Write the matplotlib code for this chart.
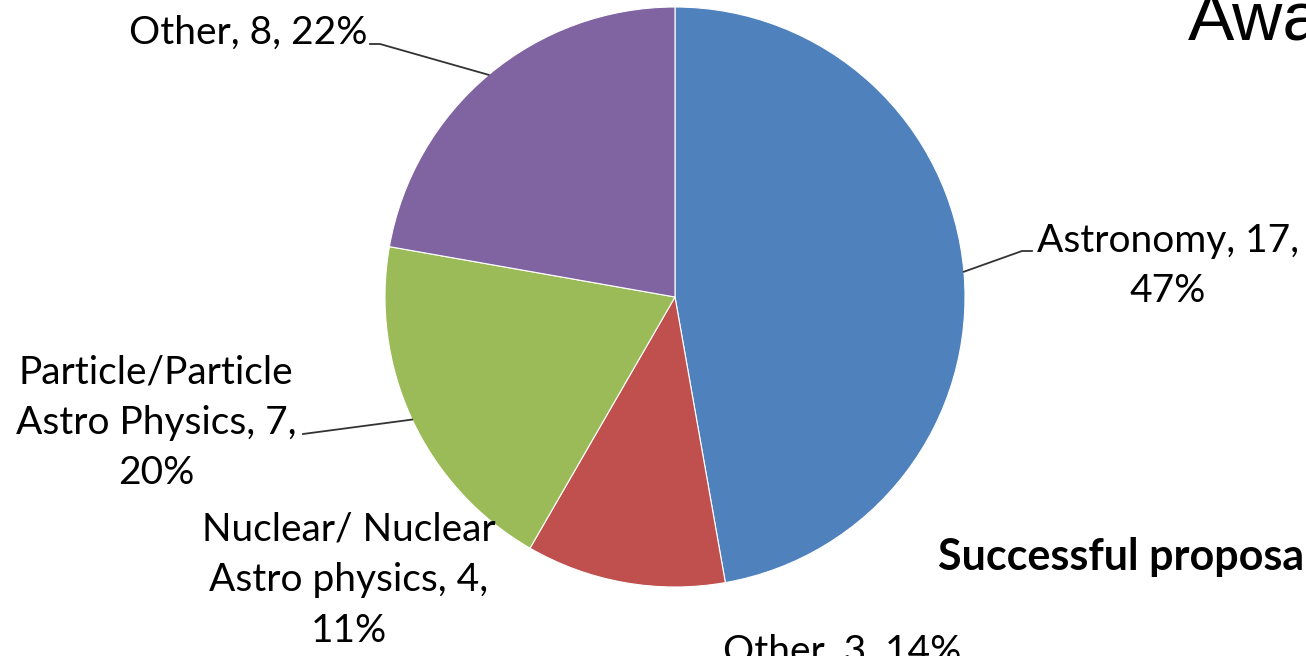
import numpy as np
import matplotlib
matplotlib.use("Agg")
import matplotlib.pyplot as plt

# slice data, clockwise from the top
categories = ["Astronomy", "Nuclear/ Nuclear\nAstro physics", "Particle/Particle\nAstro Physics", "Other"]
counts = [17, 4, 7, 8]
percents = [47, 11, 20, 22]
colors = ["#4F81BD", "#C0504D", "#9BBB59", "#8064A2"]

W, H = 1306, 656
label_font = "Lato"

fig = plt.figure(figsize=(W / 100, H / 100), dpi=100)
ax = fig.add_axes([0, 0, 1, 1])

cx, cy, r = 675, 297, 290
wedges, _ = ax.pie(counts, colors=colors, startangle=270, counterclock=True,
                   radius=r, center=(cx, cy),
                   wedgeprops=dict(edgecolor="white", linewidth=0.8))
ax.set_xlim(0, W)
ax.set_ylim(H, 0)
ax.set_aspect("equal")
ax.axis("off")


def edge_point(w):
    a = np.deg2rad((w.theta1 + w.theta2) / 2)
    return cx + r * np.cos(a), cy + r * np.sin(a)


fs = 28
ls = 1.5
line_kw = dict(color="#333333", lw=1.3)

# Astronomy
ax.text(1168, 266, f"{categories[0]}, {counts[0]},\n{percents[0]}%", ha="center", va="center",
        fontsize=fs, family=label_font, linespacing=ls)
x0, y0 = edge_point(wedges[0])
ax.plot([x0, 1022, 1032], [y0, 251, 251], **line_kw)

# Other
ax.text(248, 33, f"{categories[3]}, {counts[3]}, {percents[3]}%", ha="center", va="center",
        fontsize=fs, family=label_font)
x0, y0 = edge_point(wedges[3])
ax.plot([x0, 380, 370], [y0, 44, 44], **line_kw)

# Particle
ax.text(156, 423, f"{categories[2]}, {counts[2]},\n{percents[2]}%", ha="center", va="center",
        fontsize=fs, family=label_font, linespacing=ls)
x0, y0 = edge_point(wedges[2])
ax.plot([x0, 303], [y0, 434], **line_kw)

# Nuclear
ax.text(349, 580, f"{categories[1]}, {counts[1]},\n{percents[1]}%", ha="center", va="center",
        fontsize=fs, family=label_font, linespacing=ls)

# second chart peeking in at the bottom right
ax.text(842, 652, "Other, 3, 14%", ha="center", va="center", fontsize=fs, family=label_font)
ax.text(938, 557, "Successful proposals", ha="left", va="center", fontsize=31,
        family=label_font, fontweight="bold")
ax.text(1188, 40, "Awards", ha="left", va="baseline", fontsize=50, family="Liberation Sans")

fig.savefig("out.png", dpi=100)
